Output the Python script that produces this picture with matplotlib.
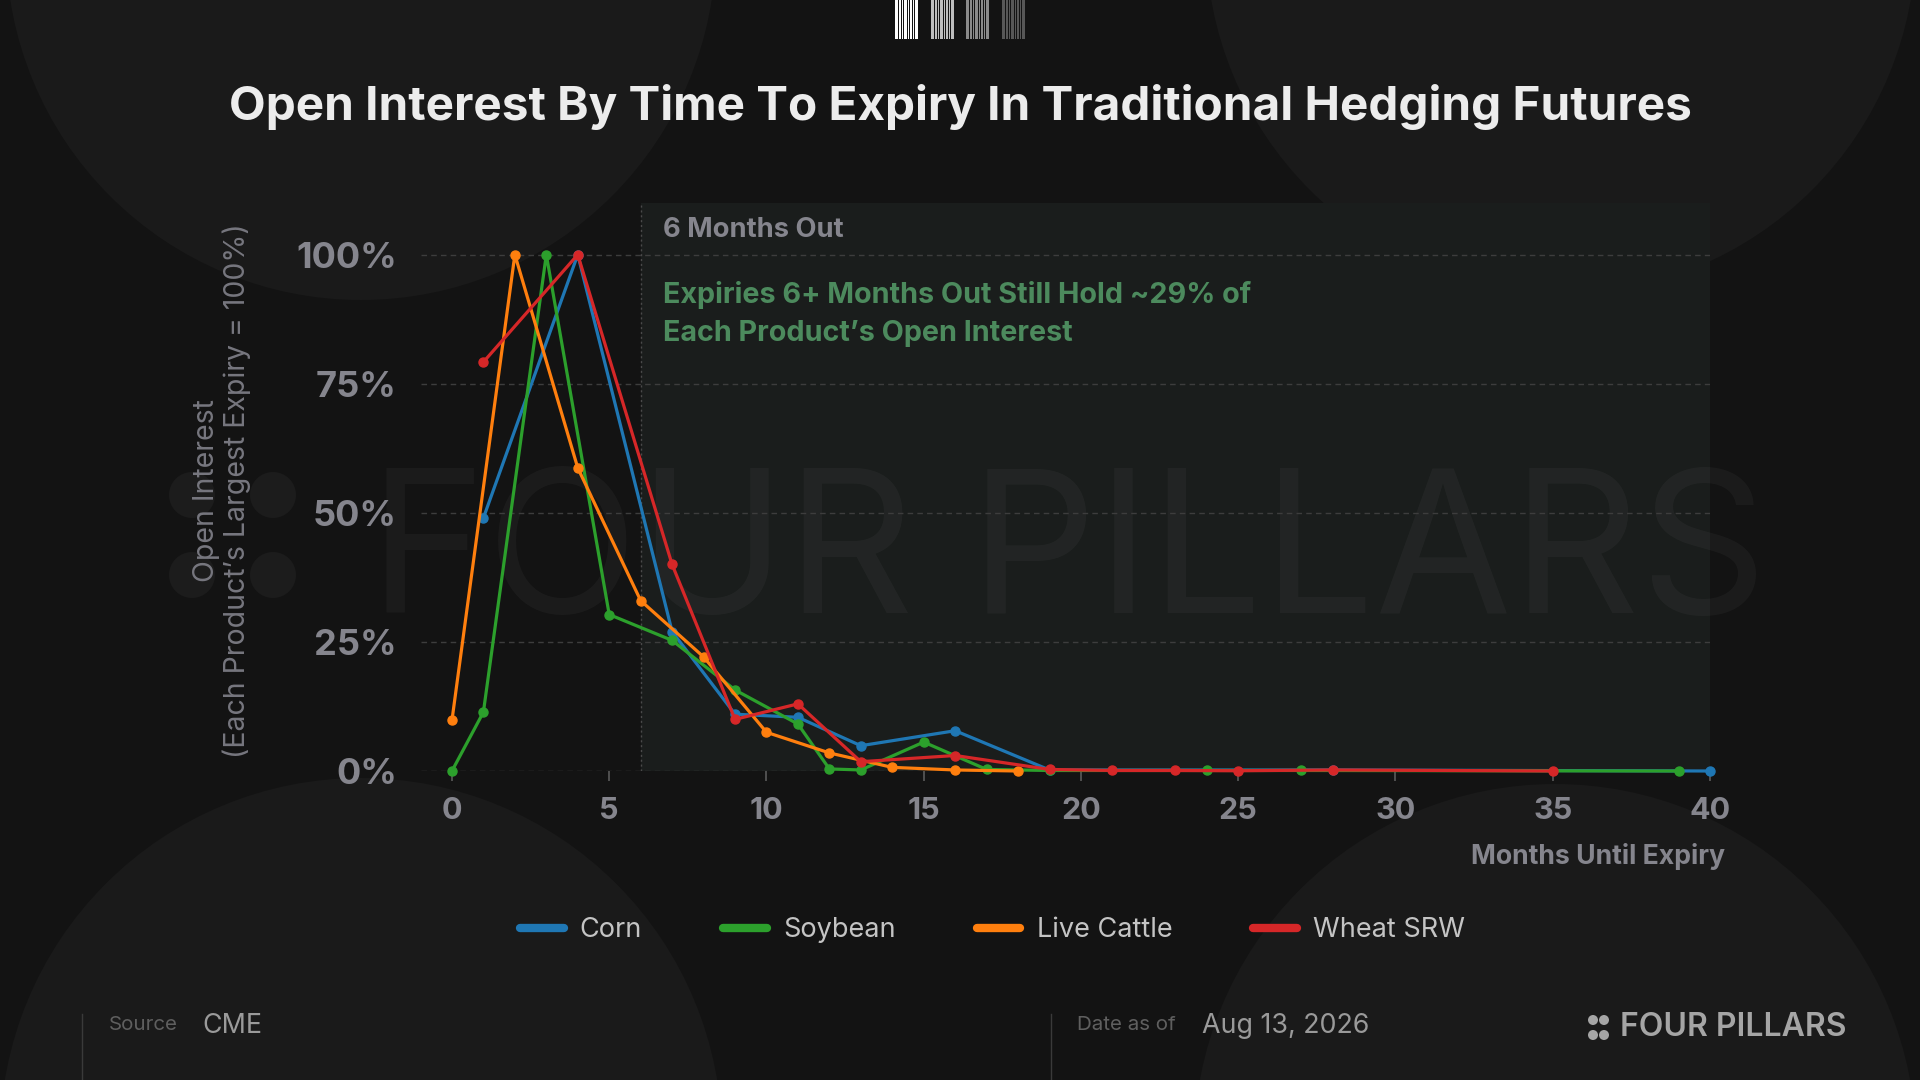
import numpy as np
import matplotlib
matplotlib.use("Agg")
from matplotlib import pyplot as plt
from matplotlib.patches import Circle, Rectangle
from matplotlib.lines import Line2D

plt.rcParams['font.family'] = ['Inter', 'DejaVu Sans']

# data (percent of each product's largest expiry)
corn_x = [1, 4, 7, 9, 11, 13, 16, 19, 28, 40]
corn_y = [49, 100, 27, 11, 10.4, 4.9, 7.8, 0.2, 0.2, 0]

soy_x = [0, 1, 3, 5, 7, 9, 11, 12, 13, 15, 17, 19, 24, 27, 39]
soy_y = [0, 11.4, 100, 30.3, 25.3, 15.7, 9.1, 0.4, 0.2, 5.6, 0.3, 0.1, 0.1, 0.1, 0]

cattle_x = [0, 2, 4, 6, 8, 10, 12, 14, 16, 18]
cattle_y = [9.8, 100, 58.7, 33, 22.1, 7.5, 3.5, 0.7, 0.2, 0]

wheat_x = [1, 4, 7, 9, 11, 13, 16, 19, 21, 23, 25, 28, 35]
wheat_y = [79.2, 100, 40, 10, 13, 1.8, 3.0, 0.3, 0.1, 0.1, 0.05, 0.2, 0]

series_names = ["Corn", "Soybean", "Live Cattle", "Wheat SRW"]
series_colors = ["#1f77b4", "#2ca02c", "#ff7f0e", "#d62728"]
xticks = [0, 5, 10, 15, 20, 25, 30, 35, 40]
yticks = [0, 25, 50, 75, 100]

BG = "#131313"
CIRC = "#1a1a1a"
GRAY = "#85858d"

fig = plt.figure(figsize=(19.2, 10.8), dpi=100, facecolor=BG)

# background layer in pixel coords
bg = fig.add_axes([0, 0, 1, 1], zorder=-10)
bg.set_xlim(0, 1920)
bg.set_ylim(1080, 0)
bg.axis("off")
for cx, cy, r in [(361, -55, 355), (1561, -61, 355), (361, 1139, 361), (1555, 1145, 361)]:
    bg.add_patch(Circle((cx, cy), r, color=CIRC, lw=0))
# watermark dots
for cx, cy in [(192, 495), (273, 495), (192, 575), (273, 575)]:
    bg.add_patch(Circle((cx, cy), 23, color="#1c1c1c", lw=0))

# barcode-like logo at the top
stripes = [(0, 3), (4, 2), (7, 1), (9, 3), (13, 1), (15, 2), (18, 1), (20, 3)]
for g, col in enumerate(["#ffffff", "#bdbdbd", "#8a8a8a", "#575757"]):
    x0 = 895 + g * 35.7
    for off, w in stripes:
        bg.add_patch(Rectangle((x0 + off, 0), w, 39, color=col, lw=0))

# footer
for x in [82, 1051]:
    bg.plot([x, x], [1014, 1080], color="#3a3a3a", lw=1)
fig.text(109 / 1920, 1 - 1025 / 1080, "Source", color="#5f5f5f", fontsize=14.8, va="center")
fig.text(202 / 1920, 1 - 1026 / 1080, "CME", color="#9a9a9a", fontsize=19.3, va="center")
fig.text(1077 / 1920, 1 - 1025 / 1080, "Date as of", color="#5f5f5f", fontsize=14.8, va="center")
fig.text(1202 / 1920, 1 - 1026 / 1080, "Aug 13, 2026", color="#9a9a9a", fontsize=19.3, va="center")
for cx, cy in [(1593, 1020), (1604, 1020), (1593, 1035), (1604, 1035)]:
    bg.add_patch(Circle((cx, cy), 5, color="#a5a5a5", lw=0))
fig.text(1620 / 1920, 1 - 1028 / 1080, "FOUR PILLARS", color="#a5a5a5", fontsize=23,
         fontweight="semibold", va="center")

# title
fig.text(0.5, 1 - 107 / 1080, "Open Interest By Time To Expiry In Traditional Hedging Futures",
         color="#ececec", fontsize=34.3, fontweight="bold", ha="center", va="center")

# main chart
ax = fig.add_axes([420.5 / 1920, 1 - 771 / 1080, (1710 - 420.5) / 1920, (771 - 203) / 1080])
ax.set_facecolor("none")
ax.set_xlim(-1, 40)
ax.set_ylim(0, 110)
ax.axvspan(6, 40, color="#1a1d1c", lw=0, zorder=0.2)
ax.axvline(6, color="#4a4a4a", lw=1, ls=(0, (1.5, 2)), zorder=0.3)

# faint watermark
ax.text(369 / 1920, 1 - 613 / 1080, "FOUR PILLARS", transform=fig.transFigure, fontsize=143,
        color="white", alpha=0.035, ha="left", va="baseline", zorder=0.4, clip_on=False)

for yv in yticks:
    ax.axhline(yv, color="#3d3d3d", lw=1, ls=(0, (4, 3)), zorder=0.5)

ax.text(6.7, 104.8, "6 Months Out", color=GRAY, fontsize=19.7, fontweight="bold", va="center")
ax.text(6.7, 88.5, "Expiries 6+ Months Out Still Hold ~29% of\nEach Product\u2019s Open Interest",
        color="#4c8a5d", fontsize=20.7, fontweight="bold", va="center", linespacing=1.49)

all_x = [corn_x, soy_x, cattle_x, wheat_x]
all_y = [corn_y, soy_y, cattle_y, wheat_y]
for xs, ys, col in zip(all_x, all_y, series_colors):
    ax.plot(xs, ys, color=col, lw=2.3, marker="o", ms=6.5, zorder=3, clip_on=False)

for s in ax.spines.values():
    s.set_visible(False)
ax.set_xticks(xticks)
ax.set_yticks(yticks)
ax.set_yticklabels([f"{v}%" for v in yticks])
ax.tick_params(axis="x", colors="#5a5a5a", length=7, width=1.2, pad=12, labelsize=22,
               labelcolor=GRAY)
ax.tick_params(axis="y", length=0, pad=17, labelsize=26, labelcolor=GRAY)
for lab in ax.get_xticklabels() + ax.get_yticklabels():
    lab.set_fontweight("bold")

fig.text(1725 / 1920, 1 - 857 / 1080, "Months Until Expiry", color=GRAY, fontsize=19.2,
         fontweight="bold", ha="right", va="center")
fig.text(222 / 1920, 1 - 491 / 1080,
         "Open Interest\n(Each Product\u2019s Largest Expiry = 100%)",
         color="#77777f", fontsize=20.5, rotation=90, ha="center", va="center",
         multialignment="center", linespacing=1.1)

handles = [Line2D([], [], color=c, lw=6, solid_capstyle="round") for c in series_colors]
fig.legend(handles, series_names, ncol=4, loc="center", bbox_to_anchor=(0.517, 1 - 930 / 1080),
           frameon=False, fontsize=19.5, labelcolor="#c4c4c4", handlelength=1.6,
           handletextpad=0.6, columnspacing=3.0)

fig.savefig("out.png", dpi=100, facecolor=BG)
